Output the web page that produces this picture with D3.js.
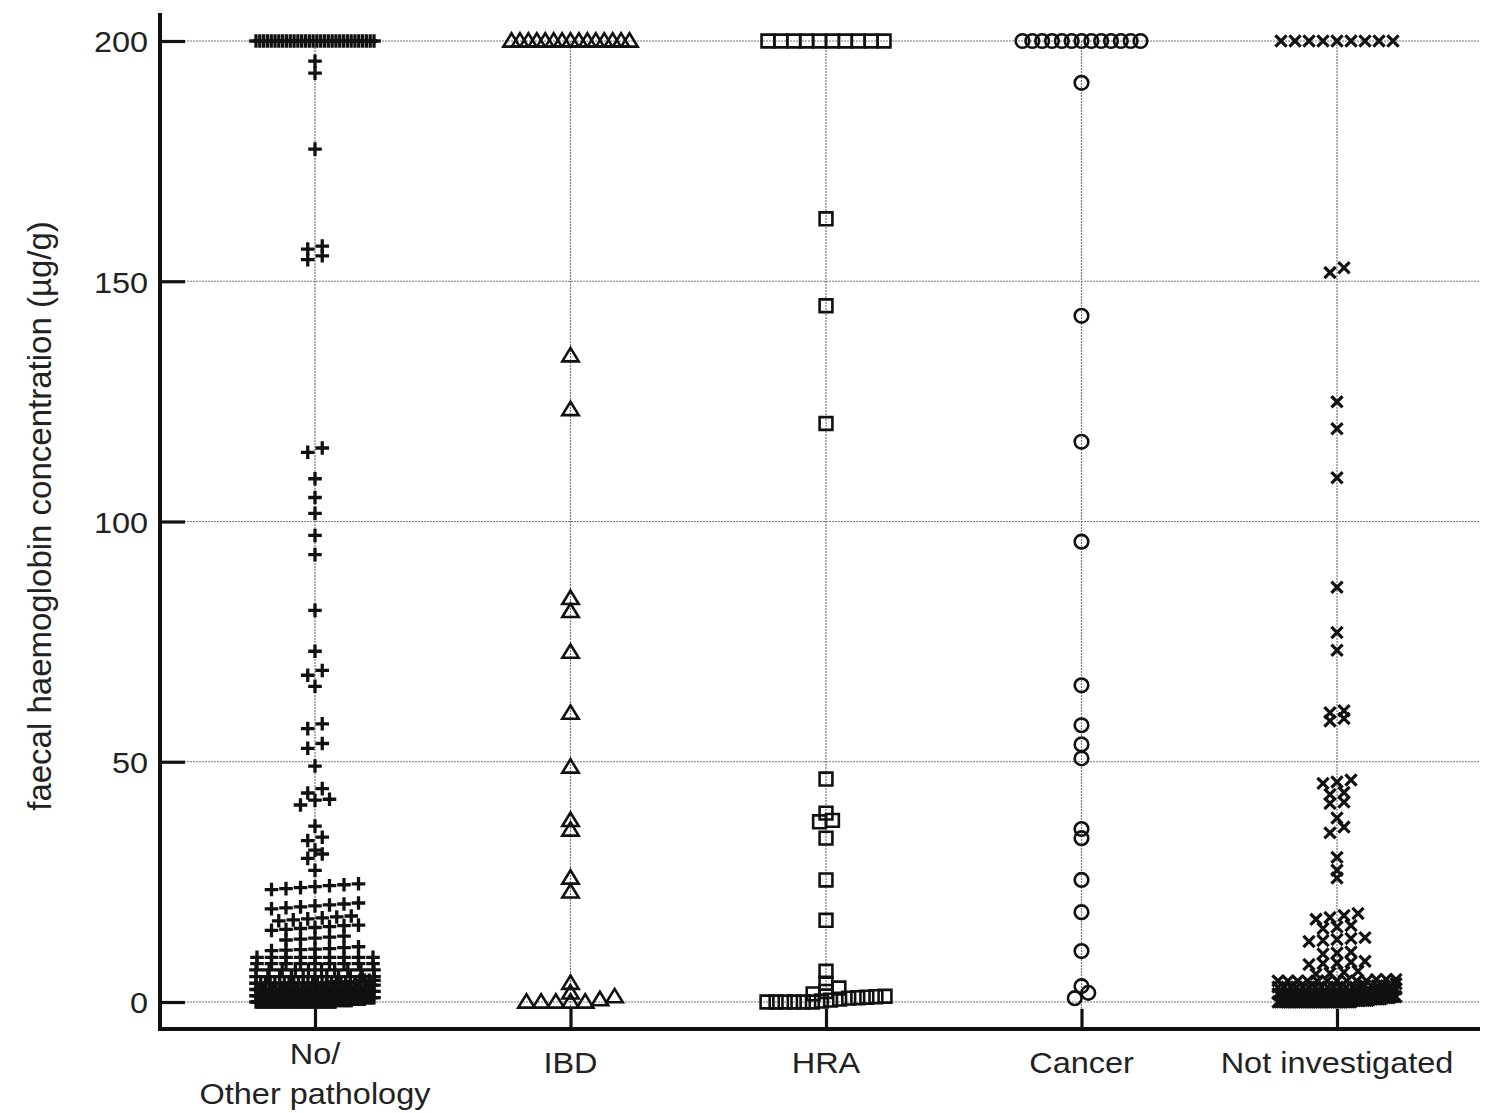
<!DOCTYPE html>
<html><head><meta charset="utf-8">
<script src="https://cdn.jsdelivr.net/npm/d3@7"></script>
<style>body{margin:0;background:#fff}</style>
</head><body><svg id="c" width="1501" height="1113"></svg>
<script>
// ---------- data ----------
const categories = [["No/","Other pathology"],["IBD"],["HRA"],["Cancer"],["Not investigated"]];
const yTicks = [0, 50, 100, 150, 200];
const yTitle = "faecal haemoglobin concentration (\u00b5g/g)";

// [value, count]
const noPathData = [
  [200,32],[195.8,1],[193.3,1],[177.5,1],[154.5,1],[155.3,1],[156.7,1],[157.3,1],
  [115.3,1],[114.4,1],[108.9,1],[105.0,1],[101.7,1],[97.1,1],[93.1,1],[81.5,1],[73.0,1],
  [69.0,1],[68.0,1],[65.7,1],[57.9,1],[56.9,1],[53.8,1],[52.8,1],[49.1,1],
  [44.4,1],[43.5,1],[42.2,1],[42.0,1],[41.0,1],[36.6,1],[34.3,1],[33.6,1],[31.6,1],
  [30.8,1],[29.9,1],[27.4,1],
  [23.4,1],[23.6,1],[23.8,1],[24.0,1],[24.2,1],[24.4,1],[24.6,1],
  [19.4,1],[19.6,1],[19.8,1],[20.0,1],[20.2,1],[20.4,1],[20.6,1],
  [16.9,1],[17.1,1],[17.3,1],[17.5,1],[17.7,1],[17.9,1],
  [14.9,1],[15.1,1],[15.3,1],[15.5,1],[15.7,1],[15.9,1],[16.0,1],
  [12.9,1],[13.1,1],[13.3,1],[13.5,1],[13.7,1],
  [10.7,1],[10.8,1],[10.9,1],[11.0,1],[11.1,1],[11.3,1],[11.5,1],
  [9.3,9],[8.0,9],[6.7,10],[5.3,11],
  [3.9,16],[4.2,6],[4.5,4],
  [2.6,24],[2.9,7],[3.2,4],[3.5,2],
  [1.3,34],[1.6,9],[1.9,5],[2.2,3],
  [0,50],[0.3,10],[0.6,8],[0.9,6]
];
const ibdData = [
  [200,15],[134.5,1],[123.3,1],[84.0,1],[81.3,1],[72.8,1],[60.1,1],[48.9,1],
  [37.8,1],[35.8,1],[25.8,1],[22.9,1],[3.9,1],[1.9,1],[0,5],[0.5,1],[1.1,1]
];
const hraData = [
  [200,10],[163.0,1],[144.9,1],[120.4,1],[46.4,1],[39.3,1],[37.5,1],[37.8,1],
  [34.1,1],[25.4,1],[17.0,1],[6.4,1],[3.9,1],[1.7,1],[2.2,1],[2.9,1],
  [0,6],[0.2,1],[0.4,1],[0.6,1],[0.8,1],[0.9,1],[1.0,1],[1.1,1],[1.2,1]
];
const cancerData = [
  [200,13],[191.3,1],[142.8,1],[116.6,1],[95.8,1],[65.9,1],[57.6,1],[53.6,1],
  [50.7,1],[36.0,1],[34.1,1],[25.4,1],[18.7,1],[10.6,1],[3.3,1],[0.8,1],[1.9,1]
];
const notInvData = [
  [200,9],[151.8,1],[152.8,1],[124.9,1],[119.3,1],[109.1,1],[86.3,1],[76.9,1],[73.2,1],
  [60.2,1],[60.6,1],[58.5,1],[59.0,1],
  [45.5,1],[45.8,1],[46.2,1],[43.2,1],[43.6,1],[41.3,1],[41.6,1],[38.3,1],
  [35.2,1],[36.4,1],[30.1,1],[27.4,1],[25.8,1],
  [17.2,1],[17.6,1],[18.0,1],[18.4,1],
  [15.3,1],[15.6,1],[15.9,1],
  [12.6,1],[12.8,1],[13.0,1],[13.2,1],[13.4,1],
  [10.0,1],[10.2,1],[10.4,1],
  [7.8,1],[8.0,1],[8.1,1],[8.3,1],[8.5,1],
  [5.8,1],[6.0,1],[6.2,1],[6.4,1],
  [4.4,10],[4.7,3],
  [3.1,14],[3.4,4],[3.8,2],
  [1.7,20],[2.0,5],[2.4,3],[2.7,2],
  [0,35],[0.3,8],[0.6,6],[0.9,4],[1.1,3]
];
const groupData = [noPathData, ibdData, hraData, cancerData, notInvData];
const groupSymbols = ["plus","triangle","square","circle","cross"];

// ---------- styles ----------
const symbolSpec = {
  plus:     {path:"M-6.8,0H6.8M0,-6.8V6.8", sw:3.3, spacing:14.5},
  triangle: {path:"M0,-7.8L8.2,5.6L-8.2,5.6Z", sw:2.6, spacing:14.7},
  square:   {path:"M-6.4,-6.4H6.4V6.4H-6.4Z", sw:2.6, spacing:12.9},
  circle:   {path:"M-6.8,0A6.8,6.8 0 1,0 6.8,0A6.8,6.8 0 1,0 -6.8,0Z", sw:2.6, spacing:13.5},
  cross:    {path:"M-5.6,-5.6L5.6,5.6M-5.6,5.6L5.6,-5.6", sw:3.2, spacing:14}
};
const ROW_T = 1.25, MAX_SPAN = 118;
const FONT = "'Liberation Sans', Arial, Helvetica, sans-serif";

const svg = d3.select("#c");
const axisX0 = 160, axisX1 = 1480, axisY = 1029, axisTop = 13;
const x = d3.scalePoint().domain(d3.range(categories.length)).range([315, 1337]);
const y = d3.scaleLinear().domain([0, 200]).range([1002, 41]);

// gridlines
const grid = svg.append("g").attr("stroke", "#777").attr("stroke-width", 1.2)
  .attr("stroke-dasharray", "2,1").attr("fill", "none");
grid.selectAll("line.h").data(yTicks).join("line").attr("class","h")
  .attr("x1", axisX0).attr("x2", axisX1).attr("y1", d => y(d)).attr("y2", d => y(d));
grid.selectAll("line.v").data(d3.range(categories.length)).join("line").attr("class","v")
  .attr("x1", d => x(d)).attr("x2", d => x(d)).attr("y1", y(200)).attr("y2", axisY);

// y axis (ticks + labels via d3 axis)
const yAxis = d3.axisLeft(y).tickValues(yTicks).tickSizeInner(-25).tickSizeOuter(0).tickPadding(10);
const gy = svg.append("g").attr("transform", `translate(${axisX0},0)`).call(yAxis);
gy.select(".domain").remove();
gy.selectAll(".tick line").attr("stroke", "#111").attr("stroke-width", 3.2);
gy.selectAll(".tick text").attr("font-family", FONT).attr("font-size", 29.5).attr("fill", "#222")
  .attr("dy", "0.37em")
  .attr("transform", function(){ const xx = +d3.select(this).attr("x"); return `translate(${xx*0.1},0) scale(1.1,1)`; });

// x axis ticks
const xAxis = d3.axisBottom(x).tickSizeInner(-20).tickSizeOuter(0).tickFormat("");
const gx = svg.append("g").attr("transform", `translate(0,${axisY})`).call(xAxis);
gx.select(".domain").remove();
gx.selectAll(".tick line").attr("stroke", "#111").attr("stroke-width", 3.2);

// axis lines
svg.append("line").attr("x1", axisX0).attr("x2", axisX0).attr("y1", axisTop).attr("y2", axisY + 2)
  .attr("stroke", "#111").attr("stroke-width", 4);
svg.append("line").attr("x1", axisX0 - 2).attr("x2", axisX1).attr("y1", axisY).attr("y2", axisY)
  .attr("stroke", "#111").attr("stroke-width", 4);

// x labels
categories.forEach((lines, i) => {
  const base = lines.length > 1 ? 1064 : 1073;
  lines.forEach((t, k) => {
    svg.append("text").attr("transform", `translate(${x(i)},${base + k*40}) scale(1.1,1)`)
      .attr("text-anchor", "middle").attr("font-family", FONT).attr("font-size", 29.5)
      .attr("fill", "#222").text(t);
  });
});

// y title
svg.append("text").attr("transform", `translate(51,516) rotate(-90)`)
  .attr("text-anchor", "middle").attr("font-family", FONT).attr("font-size", 33)
  .attr("fill", "#222").text(yTitle);

// layout: group values into rows, spread centred, ascending left to right
function layoutGroup(pairs, spacing) {
  const vals = [];
  pairs.forEach(([v, c]) => { for (let i = 0; i < c; i++) vals.push(v); });
  vals.sort((a, b) => a - b);
  const pts = [];
  let i = 0;
  while (i < vals.length) {
    const start = vals[i];
    let j = i;
    while (j < vals.length && vals[j] - start < ROW_T - 1e-9) j++;
    const row = vals.slice(i, j), n = row.length;
    const s = n > 1 ? Math.min(spacing, MAX_SPAN / (n - 1)) : 0;
    row.forEach((v, k) => pts.push({ v, dx: (k - (n - 1) / 2) * s }));
    i = j;
  }
  return pts;
}

groupData.forEach((data, gi) => {
  const spec = symbolSpec[groupSymbols[gi]];
  const pts = layoutGroup(data, spec.spacing);
  svg.append("g").selectAll("path").data(pts).join("path")
    .attr("d", spec.path)
    .attr("transform", d => `translate(${x(gi) + d.dx},${y(d.v)})`)
    .attr("fill", "none").attr("stroke", "#111").attr("stroke-width", spec.sw)
    .attr("stroke-linejoin", "miter");
});
</script>
</body></html>
